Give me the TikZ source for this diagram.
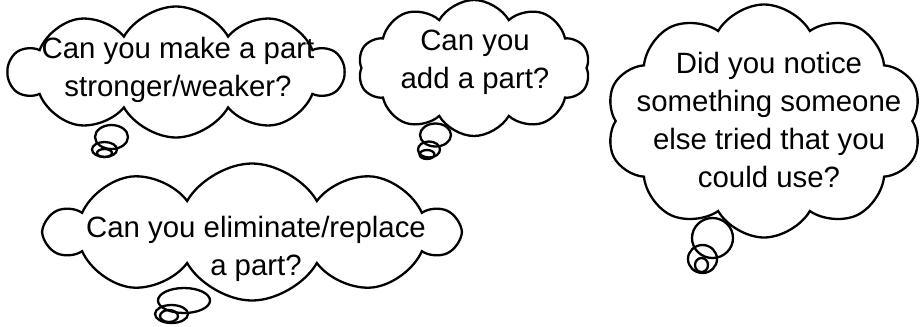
\documentclass[tikz,border=0pt]{standalone}
\usepackage{fontspec}
\setmainfont{Liberation Sans}
\usetikzlibrary{shapes.symbols}
\definecolor{tinta}{HTML}{000000}

\begin{document}
\begin{tikzpicture}[
  x=1bp, y=-1bp,
  nuvem/.style={cloud, draw=tinta, line width=2.3bp, cloud puffs=10, cloud puff arc=120,
    cloud ignores aspect, inner sep=0pt},
  bolha/.style={draw=tinta, line width=2.3bp},
  texto/.style={align=center, font=\fontsize{29.5}{38}\selectfont, inner sep=0pt}]
\useasboundingbox (0,0) rectangle (923,326);
% ---- baloes
\node[nuvem, minimum width=334bp, minimum height=131bp] (n1) at (176,72) {};
\node[nuvem, minimum width=232bp, minimum height=136bp] (n2) at (474,68) {};
\node[nuvem, minimum width=316bp, minimum height=233bp] (n3) at (764,121) {};
\node[nuvem, minimum width=411bp, minimum height=137bp] (n4) at (252,232) {};
% ---- bolhas de pensamento
\draw[bolha] (111.5,137) ellipse [x radius=16.5bp, y radius=12bp];
\draw[bolha] (104.5,149.5) ellipse [x radius=12.5bp, y radius=7.5bp];
\draw[bolha] (104.5,153) ellipse [x radius=7.5bp, y radius=4bp];
\draw[bolha] (435.5,135) ellipse [x radius=15.5bp, y radius=11.5bp];
\draw[bolha] (429,149.5) ellipse [x radius=11bp, y radius=8bp];
\draw[bolha] (427,154.5) ellipse [x radius=7.5bp, y radius=4.5bp];
\draw[bolha] (712.5,238) ellipse [x radius=20.5bp, y radius=20bp];
\draw[bolha] (702.5,259) ellipse [x radius=14.5bp, y radius=14bp];
\draw[bolha] (701.5,265) ellipse [x radius=6.5bp, y radius=7bp];
\draw[bolha] (184,300.5) ellipse [x radius=26bp, y radius=12.5bp];
\draw[bolha] (171.5,314) ellipse [x radius=16.5bp, y radius=9bp];
\draw[bolha] (169,316) ellipse [x radius=9bp, y radius=6bp];
% ---- textos
\node[texto] (t1) at (178,70) {Can you make a part\\stronger/weaker?};
\node[texto] (t2) at (475,62) {Can you\\add a part?};
\node[texto] (t3) at (769,120) {Did you notice\\something someone\\else tried that you\\could use?};
\node[texto] (t4) at (256,249) {Can you eliminate/replace\\a part?};
\end{tikzpicture}
\end{document}
